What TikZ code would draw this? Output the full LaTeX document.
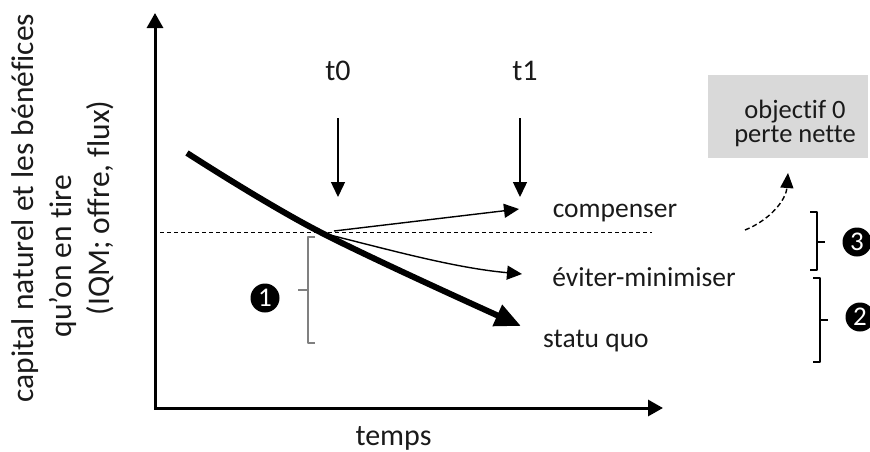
\documentclass[tikz,border=0pt]{standalone}
\usepackage{fontspec}
\setmainfont{Carlito}[Ligatures={NoCommon}]
\usetikzlibrary{arrows.meta}
\definecolor{txt}{HTML}{1A1A1A}
\definecolor{boxgray}{HTML}{D9D9D9}
\definecolor{bracegray}{HTML}{808080}
\begin{document}
\begin{tikzpicture}[x=1pt,y=-1pt,
  lbl/.style={font=\fontsize{27.5}{33}\selectfont, text=txt, inner sep=0pt},
  axlbl/.style={font=\fontsize{30}{36}\selectfont, text=txt, inner sep=0pt},
  ylbl/.style={font=\fontsize{31.5}{38}\selectfont, text=txt, inner sep=0pt, rotate=90, anchor=base},
  numdot/.style={circle, fill=black, text=white, inner sep=0pt, minimum size=29pt, font=\fontsize{27}{27}\selectfont},
  axis/.style={line width=3pt, line join=miter},
  thin arrow/.style={line width=1.4pt, -{Triangle[length=15pt,width=14pt]}},
  bracket/.style={line width=1.4pt, line join=round},
  dashedline/.style={line width=1pt, dash pattern=on 4pt off 3pt}
]
\useasboundingbox (0,0) rectangle (870,451);
\clip (0,0) rectangle (870,451);

% axes
\coordinate (Ytop) at (155,13);
\coordinate (O) at (155,408);
\coordinate (Xend) at (663,408);
\draw[axis, {Triangle[length=15pt,width=16pt]}-{Triangle[length=15pt,width=16pt]}] (Ytop) -- (O) -- (Xend);

% axis labels
\node[ylbl] (ylab1) at (33,208) {capital naturel et les bénéfices};
\node[ylbl] (ylab2) at (71,256) {qu’on en tire};
\node[ylbl] (ylab3) at (109,208) {(IQM; offre, flux)};
\node[axlbl, anchor=base] (temps) at (393.5,445) {temps};

% reference level
\coordinate (dashL) at (160,232);
\coordinate (dashR) at (652,232);
\draw[dashedline] (dashL) -- (dashR);

% time markers
\node[axlbl, anchor=base] (t0) at (338,80) {t0};
\node[axlbl, anchor=base] (t1) at (525,80) {t1};
\coordinate (t0a) at (338,118);
\coordinate (t0b) at (338,197);
\coordinate (t1a) at (520,118);
\coordinate (t1b) at (520,197);
\draw[thin arrow] (t0a) -- (t0b);
\draw[thin arrow] (t1a) -- (t1b);

% trajectories
\coordinate (s0) at (187,153);
\coordinate (sm) at (320,232);
\coordinate (s1) at (521,326);
\draw[line width=6pt, -{Triangle[length=26pt,width=22pt]}] plot[smooth, tension=0.6] coordinates {(s0) (sm) (s1)};

\coordinate (c0) at (334,231);
\coordinate (c1) at (519,209);
\draw[thin arrow] (c0) -- (c1);

\coordinate (e0) at (326,234);
\coordinate (e1) at (522,274);
\draw[thin arrow] (e0) .. controls (390,250) and (455,268) .. (e1);

\node[lbl, anchor=base] (comp) at (615,217) {compenser};
\node[lbl, anchor=base] (evit) at (644,286) {éviter-minimiser};
\node[lbl, anchor=base] (statu) at (596,347) {statu quo};

% bracket 1
\draw[bracket, bracegray] (315,237) -- (308,237) -- (308,343) -- (315,343);
\draw[bracket, bracegray] (308,290) -- (298,290);
\node[numdot] (n1) at (265,298) {1};

% bracket 3
\draw[bracket, black] (810,212) -- (817,212) -- (817,270) -- (810,270);
\draw[bracket, black] (817,242) -- (825,242);
\node[numdot] (n3) at (857,242) {3};

% bracket 2
\draw[bracket, black] (813,278) -- (820,278) -- (820,362) -- (813,362);
\draw[bracket, black] (820,320) -- (828,320);
\node[numdot] (n2) at (860,317) {2};

% goal box
\node[fill=boxgray, minimum width=160pt, minimum height=83pt, inner sep=0pt] (goal) at (788,116.5) {};
\node[lbl, font=\fontsize{26.5}{30}\selectfont, anchor=base] (goal1) at (795,118) {objectif 0};
\node[lbl, font=\fontsize{26.5}{30}\selectfont, anchor=base] (goal2) at (795,142) {perte nette};

% dashed curved arrow
\coordinate (d0) at (745,230);
\coordinate (d1) at (788,173);
\draw[line width=1.4pt, dash pattern=on 5pt off 3pt, -{Triangle[length=15pt,width=13pt]}] (d0) .. controls (770,220) and (786,200) .. (d1);
\end{tikzpicture}
\end{document}
